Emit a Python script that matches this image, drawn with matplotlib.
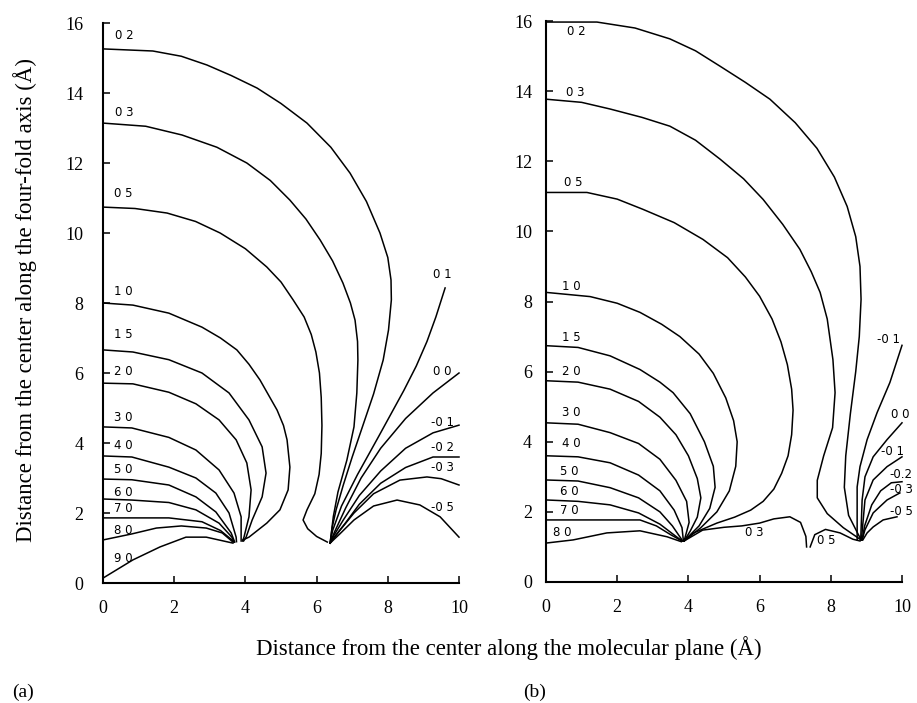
import matplotlib
matplotlib.use("Agg")
import matplotlib.pyplot as plt

# ---------------- data: contour polylines (x, y in Angstrom) ----------------
# Panel (a)
A_02 = [(0, 15.26), (1.4, 15.2), (2.2, 15.05), (2.92, 14.8), (3.6, 14.5), (4.33, 14.14), (5.0, 13.7),
        (5.73, 13.14), (6.4, 12.45), (6.94, 11.71), (7.4, 10.9), (7.78, 10.0), (8.0, 9.3), (8.09, 8.66),
        (8.1, 8.09), (8.02, 7.23), (7.87, 6.37), (7.6, 5.4), (7.3, 4.5), (7.0, 3.6), (6.75, 2.8),
        (6.55, 2.1), (6.44, 1.6), (6.38, 1.14)]
A_03 = [(0, 13.14), (1.2, 13.05), (2.22, 12.8), (3.2, 12.45), (4.04, 12.0), (4.7, 11.5), (5.25, 10.94),
        (5.7, 10.4), (6.1, 9.8), (6.45, 9.2), (6.74, 8.57), (6.95, 8.0), (7.08, 7.51), (7.15, 6.9),
        (7.16, 6.37), (7.13, 5.43), (7.05, 4.46), (6.85, 3.51), (6.6, 2.6), (6.47, 1.9), (6.38, 1.14)]
A_05 = [(0, 10.74), (0.9, 10.7), (1.8, 10.57), (2.6, 10.33), (3.29, 10.0), (4.0, 9.55), (4.6, 9.03),
        (5.0, 8.6), (5.34, 8.09), (5.65, 7.6), (5.85, 7.1), (5.98, 6.6), (6.08, 6.0), (6.13, 5.3),
        (6.15, 4.5), (6.13, 3.7), (6.07, 3.1), (5.95, 2.55), (5.73, 2.09), (5.62, 1.8), (5.75, 1.55),
        (6.0, 1.33), (6.3, 1.17)]
A_10 = [(0, 8.0), (0.84, 7.94), (1.85, 7.71), (2.78, 7.31), (3.3, 7.0), (3.76, 6.66), (4.1, 6.25),
        (4.41, 5.8), (4.89, 4.94), (5.07, 4.5), (5.17, 4.09), (5.25, 3.31), (5.2, 2.66), (4.97, 2.09),
        (4.6, 1.71), (4.1, 1.31), (3.93, 1.23)]
A_15 = [(0, 6.66), (0.84, 6.6), (1.85, 6.38), (2.78, 6.0), (3.54, 5.43), (4.1, 4.66), (4.47, 3.89),
        (4.58, 3.14), (4.47, 2.46), (4.19, 1.8), (4.02, 1.31), (3.95, 1.2)]
A_20 = [(0, 5.71), (0.84, 5.69), (1.85, 5.45), (2.61, 5.12), (3.26, 4.66), (3.74, 4.09), (4.04, 3.43),
        (4.16, 2.66), (4.1, 1.89), (3.96, 1.31), (3.92, 1.2)]
A_30 = [(0, 4.46), (0.81, 4.43), (1.85, 4.16), (2.61, 3.8), (3.26, 3.23), (3.68, 2.57), (3.88, 1.89),
        (3.88, 1.2)]
A_40 = [(0, 3.63), (0.81, 3.6), (1.85, 3.31), (2.61, 3.0), (3.17, 2.57), (3.54, 2.0), (3.74, 1.31),
        (3.75, 1.18)]
A_50 = [(0, 2.97), (0.81, 2.95), (1.85, 2.8), (2.61, 2.46), (3.17, 2.03), (3.6, 1.43), (3.7, 1.17)]
A_60 = [(0, 2.4), (0.81, 2.37), (1.85, 2.3), (2.61, 2.09), (3.26, 1.71), (3.62, 1.31), (3.68, 1.17)]
A_70 = [(0, 1.86), (1.85, 1.86), (2.78, 1.75), (3.3, 1.5), (3.6, 1.25), (3.68, 1.17)]
A_80 = [(0, 1.23), (0.8, 1.4), (1.5, 1.57), (2.2, 1.63), (2.9, 1.57), (3.35, 1.43), (3.65, 1.17)]
A_90 = [(0, 0.14), (0.84, 0.66), (1.6, 1.03), (2.33, 1.31), (2.9, 1.31), (3.65, 1.14)]
A_P01 = [(9.61, 8.43), (9.35, 7.6), (9.1, 6.9), (8.8, 6.2), (8.45, 5.5), (7.75, 4.2), (7.15, 3.1),
         (6.7, 2.2), (6.45, 1.5), (6.38, 1.14)]
A_P00 = [(10, 6.0), (9.27, 5.43), (8.5, 4.7), (7.8, 3.85), (7.25, 3.0), (6.82, 2.15), (6.5, 1.45),
         (6.38, 1.14)]
A_M01 = [(10, 4.51), (9.27, 4.29), (8.5, 3.85), (7.8, 3.2), (7.2, 2.5), (6.75, 1.8), (6.45, 1.3),
         (6.38, 1.14)]
A_M02 = [(10, 3.6), (9.27, 3.6), (8.5, 3.3), (7.8, 2.85), (7.2, 2.25), (6.8, 1.7), (6.45, 1.25),
         (6.38, 1.14)]
A_M03 = [(10, 2.8), (9.5, 2.98), (9.1, 3.03), (8.34, 2.94), (7.6, 2.55), (7.05, 2.0), (6.65, 1.5),
         (6.38, 1.14)]
A_M05 = [(10, 1.31), (9.47, 1.89), (8.9, 2.23), (8.26, 2.37), (7.6, 2.2), (7.05, 1.8), (6.65, 1.4),
         (6.38, 1.14)]

# Panel (b)
B_02 = [(0, 15.97), (1.43, 15.97), (2.5, 15.8), (3.48, 15.49), (4.2, 15.15), (4.89, 14.71), (5.6, 14.25),
        (6.29, 13.77), (7.0, 13.1), (7.61, 12.37), (8.1, 11.55), (8.46, 10.71), (8.7, 9.85), (8.82, 9.0),
        (8.85, 8.06), (8.8, 7.0), (8.7, 6.0), (8.55, 4.8), (8.42, 3.6), (8.38, 2.7), (8.5, 1.9),
        (8.85, 1.2)]
B_03 = [(0, 13.77), (1.0, 13.68), (1.8, 13.49), (2.7, 13.25), (3.48, 13.0), (4.2, 12.6), (4.89, 12.06),
        (5.55, 11.5), (6.1, 10.91), (6.65, 10.2), (7.13, 9.49), (7.45, 8.85), (7.7, 8.26), (7.9, 7.5),
        (8.06, 6.34), (8.12, 5.4), (8.05, 4.4), (7.8, 3.6), (7.62, 2.9), (7.62, 2.4), (7.9, 1.95),
        (8.35, 1.55), (8.85, 1.2)]
B_05 = [(0, 11.11), (1.15, 11.11), (2.0, 10.92), (2.72, 10.63), (3.6, 10.25), (4.41, 9.77), (5.1, 9.25),
        (5.6, 8.7), (6.0, 8.15), (6.35, 7.5), (6.6, 6.85), (6.78, 6.2), (6.9, 5.5), (6.94, 4.9),
        (6.9, 4.2), (6.8, 3.6), (6.62, 3.1), (6.4, 2.65), (6.1, 2.3), (5.75, 2.05), (5.3, 1.85),
        (4.8, 1.68), (4.15, 1.4), (3.88, 1.2)]
B_10 = [(0, 8.26), (1.24, 8.14), (2.0, 7.95), (2.64, 7.69), (3.25, 7.35), (3.76, 7.0), (4.3, 6.5),
        (4.7, 5.95), (5.05, 5.25), (5.27, 4.6), (5.37, 4.0), (5.33, 3.3), (5.15, 2.6), (4.8, 2.0),
        (4.35, 1.55), (3.88, 1.17)]
B_15 = [(0, 6.74), (0.9, 6.69), (1.8, 6.45), (2.64, 6.06), (3.2, 5.7), (3.57, 5.4), (4.05, 4.8),
        (4.45, 4.0), (4.7, 3.3), (4.75, 2.7), (4.6, 2.1), (4.3, 1.6), (3.88, 1.17)]
B_20 = [(0, 5.74), (0.9, 5.7), (1.8, 5.5), (2.6, 5.15), (3.2, 4.7), (3.65, 4.2), (4.0, 3.6),
        (4.25, 2.95), (4.35, 2.4), (4.25, 1.85), (4.05, 1.45), (3.88, 1.17)]
B_30 = [(0, 4.54), (0.9, 4.5), (1.8, 4.26), (2.6, 3.95), (3.2, 3.5), (3.65, 2.9), (3.95, 2.3),
        (4.02, 1.7), (3.88, 1.17)]
B_40 = [(0, 3.6), (0.9, 3.57), (1.8, 3.4), (2.6, 3.05), (3.2, 2.6), (3.6, 2.05), (3.82, 1.55),
        (3.86, 1.17)]
B_50 = [(0, 2.91), (0.9, 2.88), (1.8, 2.69), (2.6, 2.4), (3.2, 2.0), (3.55, 1.6), (3.84, 1.17)]
B_60 = [(0, 2.34), (0.9, 2.3), (1.8, 2.2), (2.6, 1.97), (3.2, 1.65), (3.82, 1.17)]
B_70 = [(0, 1.77), (2.64, 1.77), (3.1, 1.6), (3.5, 1.35), (3.82, 1.17)]
B_80 = [(0, 1.11), (0.76, 1.2), (1.71, 1.4), (2.64, 1.46), (3.4, 1.29), (3.8, 1.15)]
B_03_LOW = [(3.88, 1.17), (4.4, 1.48), (5.0, 1.56), (5.5, 1.6), (6.0, 1.68), (6.4, 1.8), (6.85, 1.86),
            (7.15, 1.7), (7.3, 1.3), (7.32, 1.0)]
B_05_LOW = [(7.42, 1.0), (7.55, 1.35), (7.85, 1.5), (8.26, 1.4), (8.62, 1.22), (8.82, 1.17)]
B_M01_TOP = [(10.0, 6.75), (9.66, 5.69), (9.3, 4.83), (9.02, 4.06), (8.82, 3.29), (8.74, 2.71),
             (8.74, 1.2)]
B_P00 = [(10.0, 4.54), (9.58, 4.06), (9.19, 3.57), (8.96, 3.0), (8.88, 2.34), (8.84, 1.2)]
B_M01 = [(10.0, 3.57), (9.58, 3.29), (9.19, 2.91), (8.96, 2.34), (8.86, 1.2)]
B_M02 = [(10.0, 2.86), (9.7, 2.83), (9.4, 2.6), (9.15, 2.2), (8.95, 1.6), (8.88, 1.2)]
B_M03 = [(9.94, 2.54), (9.58, 2.34), (9.19, 1.97), (8.96, 1.49), (8.88, 1.2)]
B_M05 = [(9.86, 1.86), (9.47, 1.77), (9.19, 1.57), (9.02, 1.4), (8.9, 1.2)]

CONTOURS_A = [A_02, A_03, A_05, A_10, A_15, A_20, A_30, A_40, A_50, A_60, A_70, A_80, A_90,
              A_P01, A_P00, A_M01, A_M02, A_M03, A_M05]
CONTOURS_B = [B_02, B_03, B_05, B_10, B_15, B_20, B_30, B_40, B_50, B_60, B_70, B_80,
              B_03_LOW, B_05_LOW, B_M01_TOP, B_P00, B_M01, B_M02, B_M03, B_M05]

# contour value labels (text, x, y)
LABELS_A = [("0 2", 0.35, 15.65), ("0 3", 0.35, 13.43), ("0 5", 0.3, 11.14), ("1 0", 0.3, 8.34),
            ("1 5", 0.3, 7.09), ("2 0", 0.3, 6.03), ("3 0", 0.3, 4.74), ("4 0", 0.3, 3.94),
            ("5 0", 0.3, 3.23), ("6 0", 0.3, 2.6), ("7 0", 0.3, 2.14), ("8 0", 0.3, 1.51),
            ("9 0", 0.3, 0.69),
            ("0 1", 9.27, 8.8), ("0 0", 9.27, 6.03), ("-0 1", 9.2, 4.6), ("-0 2", 9.2, 3.86),
            ("-0 3", 9.2, 3.31), ("-0 5", 9.2, 2.17)]
LABELS_B = [("0 2", 0.6, 15.69), ("0 3", 0.55, 13.97), ("0 5", 0.5, 11.4), ("1 0", 0.45, 8.43),
            ("1 5", 0.45, 6.97), ("2 0", 0.45, 6.0), ("3 0", 0.45, 4.83), ("4 0", 0.45, 3.94),
            ("5 0", 0.4, 3.14), ("6 0", 0.4, 2.57), ("7 0", 0.4, 2.03), ("8 0", 0.2, 1.4),
            ("0 3", 5.6, 1.4), ("0 5", 7.6, 1.17),
            ("-0 1", 9.3, 6.91), ("0 0", 9.7, 4.77), ("-0 1", 9.4, 3.71), ("-0.2", 9.65, 3.06),
            ("-0 3", 9.65, 2.63), ("-0 5", 9.65, 2.0)]

X_TICKS = [0, 2, 4, 6, 8, 10]
Y_TICKS = [0, 2, 4, 6, 8, 10, 12, 14, 16]
X_LABEL = "Distance from the center along the molecular plane (Å)"
Y_LABEL = "Distance from the center along the four-fold axis (Å)"

SERIF = "Liberation Serif"
W, H = 917, 703

fig = plt.figure(figsize=(W / 100, H / 100), dpi=100)
axA = fig.add_axes([103 / W, 120 / H, 356 / W, 560 / H])
axB = fig.add_axes([546 / W, 121 / H, 356 / W, 561 / H])


def style(ax, ypad):
    ax.set_xlim(0, 10)
    ax.set_ylim(0, 16)
    for s in ("top", "right"):
        ax.spines[s].set_visible(False)
    for s in ("left", "bottom"):
        ax.spines[s].set_linewidth(1.5)
        ax.spines[s].set_color("black")
    ax.set_xticks(X_TICKS)
    ax.set_yticks(Y_TICKS)
    ax.set_xticklabels([str(v) for v in X_TICKS], family=SERIF, fontsize=13)
    ax.set_yticklabels([str(v) for v in Y_TICKS], family=SERIF, fontsize=13)
    ax.tick_params(axis="both", direction="in", length=5, width=1.1, color="black")
    ax.tick_params(axis="x", pad=12)
    ax.tick_params(axis="y", pad=ypad)


def draw(ax, contours, labels):
    for c in contours:
        xs = [p[0] for p in c]
        ys = [p[1] for p in c]
        ax.plot(xs, ys, color="black", lw=1.1, solid_joinstyle="round", clip_on=False)
    for txt, x, y in labels:
        ax.text(x, y, txt, fontsize=8.5, family="DejaVu Sans", ha="left", va="center",
                clip_on=False, color="black")


style(axA, 14)
style(axB, 10)
draw(axA, CONTOURS_A, LABELS_A)
draw(axB, CONTOURS_B, LABELS_B)

fig.text(25 / W, 1 - 300 / H, Y_LABEL, rotation=90, ha="center", va="center",
         fontsize=16.5, family=SERIF)
fig.text(509 / W, 1 - 648 / H, X_LABEL, ha="center", va="center", fontsize=16.5, family=SERIF)
fig.text(12 / W, 1 - 692 / H, "(a)", ha="left", va="center", fontsize=14, family=SERIF)
fig.text(523 / W, 1 - 692 / H, "(b)", ha="left", va="center", fontsize=14, family=SERIF)

fig.savefig("out.png", dpi=100, facecolor="white")
